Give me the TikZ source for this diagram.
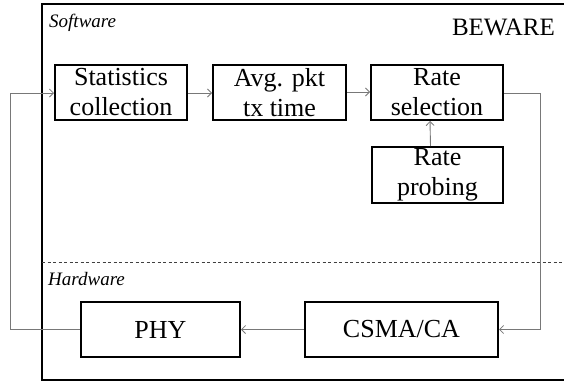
\documentclass[tikz,border=0pt]{standalone}
\usepackage{fontspec}
\setmainfont{Liberation Serif}
\usetikzlibrary{arrows.meta}

\tikzset{
  block/.style={draw=black, line width=2pt, fill=white, inner sep=0pt,
    align=center, font=\fontsize{26}{30}\selectfont},
  conn/.style={draw={rgb,255:red,120;green,120;blue,120}, line width=0.9pt,
    -{Straight Barb[length=4pt,width=8pt,line width=0.8pt]}},
  layer/.style={font=\fontsize{19}{22}\selectfont\itshape, inner sep=0pt}
}

\begin{document}
\begin{tikzpicture}[x=1pt, y=-1pt]
  \clip (0,0) rectangle (564,383);
  \fill[white] (0,0) rectangle (564,383);

  % system boundary and the software/hardware split
  \draw[line width=2pt] (570,4) -- (42,4) -- (42,380) -- (570,380);
  \draw[dash pattern=on 3pt off 2.5pt, line width=0.7pt, black!75] (42,262) -- (564,262);

  \node[layer, anchor=base west] (sw) at (49,27) {Software};
  \node[layer, anchor=base west] (hw) at (48,285) {Hardware};
  \node[font=\fontsize{25}{30}\selectfont, inner sep=0pt, anchor=base east] (name) at (555,35) {BEWARE};

  % software blocks
  \node[block, minimum width=132pt, minimum height=55pt] (stat) at (121,92.5) {Statistics\\collection};
  \node[block, minimum width=133pt, minimum height=55pt] (avg) at (279.5,92.5) {Avg. pkt\\tx time};
  \node[block, minimum width=132pt, minimum height=55pt] (rsel) at (437,92.5) {Rate\\selection};
  \node[block, minimum width=131pt, minimum height=56pt] (rprobe) at (437.5,175) {Rate\\probing};

  % hardware blocks
  \node[block, minimum width=159pt, minimum height=55pt] (phy) at (160.5,329.5) {PHY};
  \node[block, minimum width=193pt, minimum height=55pt] (csma) at (401.5,329.5) {CSMA/CA};

  % turning points of the loop
  \coordinate (rturn) at (540,93);
  \coordinate (lturn) at (10,93);

  % data flow
  \draw[conn] (stat.east |- 0,93) -- (avg.west |- 0,93);
  \draw[conn] (avg.east |- 0,92) -- (rsel.west |- 0,92);
  \draw[conn] ([xshift=-7pt]rprobe.north) -- ([xshift=-7pt]rsel.south);
  \draw[conn] (rsel.east |- rturn) -- (rturn) -- (rturn |- csma.east) -- (csma.east);
  \draw[conn] (csma.west) -- (phy.east);
  \draw[conn] (phy.west) -- (lturn |- phy.west) -- (lturn) -- (stat.west |- lturn);
\end{tikzpicture}
\end{document}
